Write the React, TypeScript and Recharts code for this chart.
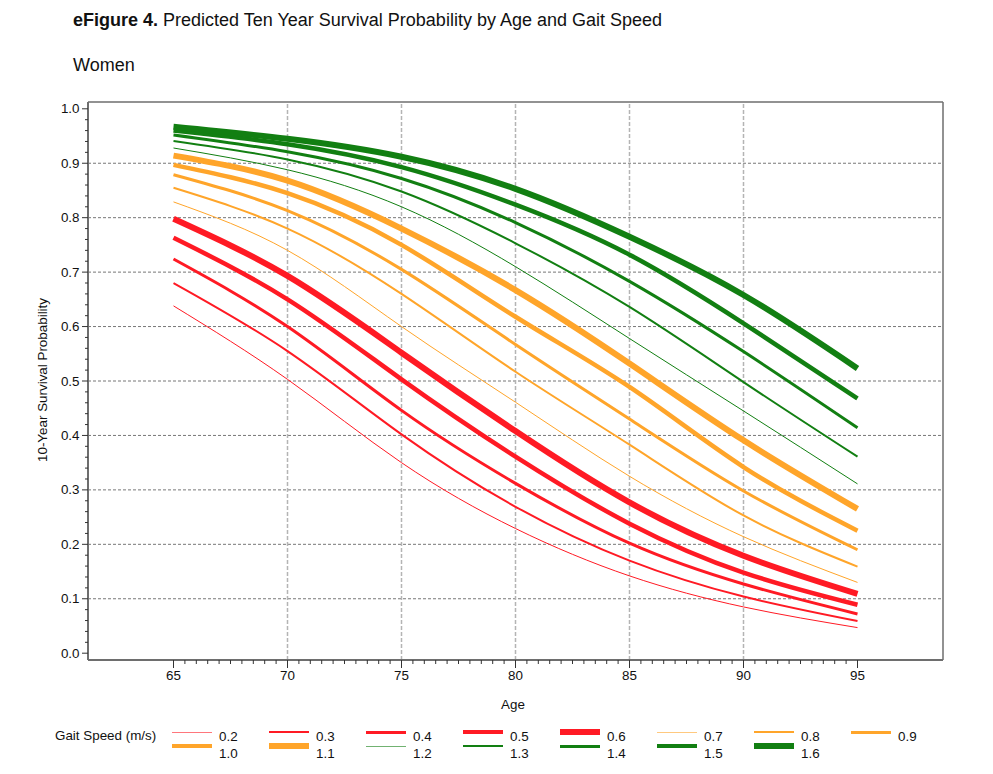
import * as React from "react";
import { LineChart, Line, XAxis, YAxis, ReferenceLine } from "recharts";

// ages on the x axis
const AGES = [65, 70, 75, 80, 85, 90, 95];

// predicted 10-year survival by gait speed (m/s), read at each age above
const G02 = [0.638, 0.503, 0.35, 0.229, 0.142, 0.085, 0.047];
const G03 = [0.68, 0.555, 0.402, 0.269, 0.17, 0.104, 0.059];
const G04 = [0.724, 0.6, 0.446, 0.312, 0.202, 0.127, 0.072];
const G05 = [0.763, 0.65, 0.503, 0.361, 0.238, 0.148, 0.089];
const G06 = [0.798, 0.693, 0.552, 0.408, 0.277, 0.179, 0.109];
const G07 = [0.829, 0.74, 0.6, 0.461, 0.325, 0.214, 0.13];
const G08 = [0.855, 0.78, 0.66, 0.517, 0.383, 0.253, 0.159];
const G09 = [0.879, 0.813, 0.705, 0.567, 0.43, 0.298, 0.19];
const G10 = [0.897, 0.845, 0.75, 0.618, 0.489, 0.342, 0.225];
const G11 = [0.914, 0.868, 0.78, 0.667, 0.532, 0.391, 0.265];
const G12 = [0.928, 0.888, 0.82, 0.71, 0.578, 0.445, 0.311];
const G13 = [0.941, 0.907, 0.848, 0.753, 0.636, 0.498, 0.361];
const G14 = [0.952, 0.921, 0.872, 0.791, 0.683, 0.554, 0.414];
const G15 = [0.96, 0.935, 0.893, 0.824, 0.732, 0.606, 0.468];
const G16 = [0.967, 0.945, 0.912, 0.853, 0.765, 0.658, 0.523];

const SPEED_LABELS = ["0.2", "0.3", "0.4", "0.5", "0.6", "0.7", "0.8", "0.9", "1.0", "1.1", "1.2", "1.3", "1.4", "1.5", "1.6"];
const SPEED_VALUES = [G02, G03, G04, G05, G06, G07, G08, G09, G10, G11, G12, G13, G14, G15, G16];

const X_MAJOR = [65, 70, 75, 80, 85, 90, 95];
const X_GRID = [70, 75, 80, 85, 90];
const Y_GRID = [0.1, 0.2, 0.3, 0.4, 0.5, 0.6, 0.7, 0.8, 0.9];

const RED = "#ff1a24";
const ORANGE = "#ffa52a";
const GREEN = "#127f12";
const WIDTHS = [1, 2, 3, 4.5, 6];
const FONT = "'Liberation Sans', Arial, sans-serif";
const FS = 13.4;

const series = SPEED_LABELS.map((label, i) => ({
  key: "g" + i,
  label,
  color: i < 5 ? RED : i < 10 ? ORANGE : GREEN,
  width: WIDTHS[i % 5],
}));

const data = AGES.map((age, j) => {
  const row: Record<string, number> = { age };
  SPEED_VALUES.forEach((vals, i) => {
    row["g" + i] = vals[j];
  });
  return row;
});

const xTicks: number[] = [];
for (let a = 65; a <= 95.001; a += 0.5) xTicks.push(Math.round(a * 10) / 10);
const yTicks: number[] = [];
for (let k = 0; k <= 50; k++) yTicks.push(Math.round(k * 2) / 100);

const AXIS_COLOR = "#6e6e6e";

function YTick(props: any) {
  const { x, y, payload } = props;
  const v = payload.value;
  const major = Math.abs(v * 10 - Math.round(v * 10)) < 1e-6;
  return (
    <g>
      <line x1={x - (major ? 6 : 3)} x2={x} y1={y} y2={y} stroke="#333" strokeWidth={1} />
      {major && (
        <text x={x - 8.5} y={y + 4.5} textAnchor="end" fontSize={FS} fontFamily={FONT} fill="#111">
          {v.toFixed(1)}
        </text>
      )}
    </g>
  );
}

function XTick(props: any) {
  const { x, y, payload } = props;
  const v = payload.value;
  const major = X_MAJOR.includes(v);
  return (
    <g>
      <line x1={x} x2={x} y1={y} y2={y + (major ? 8 : 4)} stroke="#333" strokeWidth={1} />
      {major && (
        <text x={x} y={y + 20} textAnchor="middle" fontSize={FS} fontFamily={FONT} fill="#111">
          {v}
        </text>
      )}
    </g>
  );
}

export default function App() {
  return (
    <div style={{ position: "absolute", left: 0, top: 0, width: 993, height: 774, background: "#fff", fontFamily: FONT }}>
      <div style={{ position: "absolute", left: 73, top: 10, fontSize: 18, color: "#111", whiteSpace: "nowrap" }}>
        <b>eFigure 4.</b> Predicted Ten Year Survival Probability by Age and Gait Speed
      </div>
      <div style={{ position: "absolute", left: 73, top: 55, fontSize: 18, color: "#111" }}>Women</div>

      <LineChart width={993} height={774} data={data} margin={{ top: 102, right: 50, bottom: 84, left: 48 }}>
        <XAxis
          dataKey="age"
          type="number"
          domain={[61.25, 98.75]}
          ticks={xTicks}
          interval={0}
          tickSize={0}
          tickMargin={0}
          height={30}
          allowDataOverflow
          axisLine={{ stroke: AXIS_COLOR, strokeWidth: 2 }}
          tick={<XTick />}
        />
        <YAxis
          type="number"
          domain={[-0.0125, 1.0125]}
          ticks={yTicks}
          interval={0}
          tickSize={0}
          tickMargin={0}
          width={40}
          allowDataOverflow
          axisLine={{ stroke: AXIS_COLOR, strokeWidth: 2 }}
          tick={<YTick />}
        />
        {Y_GRID.map((v) => (
          <ReferenceLine key={"h" + v} y={v} stroke="#777" strokeDasharray="3 2" strokeWidth={1} />
        ))}
        {X_GRID.map((v) => (
          <ReferenceLine key={"v" + v} x={v} stroke="#b4b4b4" strokeDasharray="4 2" strokeWidth={1.5} />
        ))}
        <ReferenceLine y={1.0125} stroke={AXIS_COLOR} strokeWidth={1.5} />
        <ReferenceLine x={98.75} stroke={AXIS_COLOR} strokeWidth={1.5} />
        {series.map((s) => (
          <Line
            key={s.key}
            dataKey={s.key}
            type="natural"
            stroke={s.color}
            strokeWidth={s.width}
            dot={false}
            activeDot={false}
            isAnimationActive={false}
          />
        ))}
      </LineChart>

      <div style={{ position: "absolute", left: 0, top: 697, width: 1026, textAlign: "center", fontSize: FS, color: "#111" }}>
        Age
      </div>
      <div
        style={{
          position: "absolute",
          left: 43,
          top: 380,
          fontSize: FS,
          lineHeight: "16px",
          color: "#111",
          whiteSpace: "nowrap",
          transform: "translate(-50%, -50%) rotate(-90deg)",
        }}
      >
        10-Year Survival Probability
      </div>

      <div style={{ position: "absolute", left: 55, top: 728, fontSize: FS, lineHeight: "16px", color: "#111", whiteSpace: "nowrap" }}>
        Gait Speed (m/s)
      </div>
      {series.map((s, i) => {
        const row = i < 8 ? 0 : 1;
        const col = i < 8 ? i : i - 8;
        const lineY = row === 0 ? 732 : 746;
        const labelTop = row === 0 ? 729 : 746;
        return (
          <React.Fragment key={s.key}>
            <div
              style={{
                position: "absolute",
                left: 172 + 97 * col,
                top: lineY - s.width / 2,
                width: 40,
                height: s.width,
                background: s.color,
                opacity: s.width === 1 ? 0.6 : 1,
              }}
            />
            <div style={{ position: "absolute", left: 219 + 97 * col, top: labelTop, fontSize: FS, lineHeight: "16px", color: "#111" }}>
              {s.label}
            </div>
          </React.Fragment>
        );
      })}
    </div>
  );
}
